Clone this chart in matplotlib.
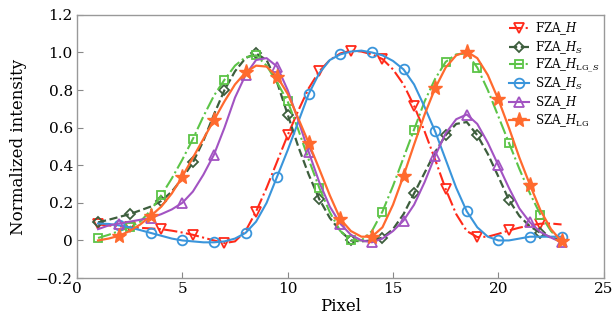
import numpy as np
import matplotlib
matplotlib.use('Agg')
import matplotlib.pyplot as plt
from matplotlib.ticker import FuncFormatter

plt.rcParams['font.family'] = ['DejaVu Serif']
plt.rcParams['mathtext.fontset'] = 'dejavuserif'

# pixel positions, 0.5 step from 1 to 23
pixel = np.arange(1, 23.5, 0.5)

fza_h = [0.085, 0.08, 0.075, 0.07, 0.067, 0.064, 0.06, 0.052, 0.042, 0.03, 0.015, 0.0,
         -0.014, -0.005, 0.05, 0.154, 0.28, 0.42, 0.56, 0.69, 0.81, 0.90, 0.96, 0.995,
         1.01, 1.005, 0.99, 0.965, 0.91, 0.83, 0.716, 0.58, 0.43, 0.273, 0.14, 0.05,
         0.018, 0.02, 0.035, 0.053, 0.068, 0.08, 0.089, 0.09, 0.085]
fza_hs = [0.096, 0.11, 0.125, 0.14, 0.16, 0.18, 0.21, 0.26, 0.33, 0.415, 0.53, 0.67,
          0.80, 0.90, 0.97, 0.995, 0.96, 0.84, 0.67, 0.50, 0.35, 0.22, 0.12, 0.05,
          0.0, -0.005, 0.0, 0.015, 0.06, 0.14, 0.25, 0.36, 0.47, 0.56, 0.62, 0.63,
          0.56, 0.46, 0.34, 0.216, 0.13, 0.075, 0.04, 0.015, 0.0]
fza_hlgs = [0.013, 0.03, 0.05, 0.07, 0.10, 0.16, 0.24, 0.33, 0.43, 0.54, 0.66, 0.77,
            0.855, 0.93, 0.975, 0.985, 0.93, 0.84, 0.74, 0.59, 0.43, 0.28, 0.15, 0.05,
            0.0, 0.0, 0.05, 0.154, 0.29, 0.44, 0.59, 0.74, 0.86, 0.95, 0.99, 0.995,
            0.92, 0.80, 0.66, 0.52, 0.38, 0.25, 0.137, 0.05, -0.01]
sza_hs = [0.09, 0.088, 0.08, 0.07, 0.055, 0.04, 0.025, 0.01, 0.0, -0.005, -0.01, -0.01,
          -0.005, 0.01, 0.04, 0.10, 0.20, 0.34, 0.48, 0.63, 0.78, 0.89, 0.96, 0.99,
          1.005, 1.01, 1.0, 0.985, 0.955, 0.91, 0.83, 0.71, 0.58, 0.43, 0.28, 0.155,
          0.07, 0.02, 0.0, 0.0, 0.01, 0.02, 0.02, 0.02, 0.02]
sza_h = [0.06, 0.08, 0.09, 0.10, 0.11, 0.12, 0.14, 0.165, 0.20, 0.26, 0.35, 0.456,
         0.60, 0.76, 0.88, 0.96, 0.97, 0.925, 0.80, 0.64, 0.47, 0.31, 0.18, 0.089,
         0.03, 0.0, -0.01, 0.01, 0.05, 0.106, 0.19, 0.31, 0.45, 0.57, 0.645, 0.67,
         0.62, 0.52, 0.40, 0.28, 0.17, 0.096, 0.045, 0.015, -0.01]
sza_hlg = [0.0, 0.01, 0.025, 0.05, 0.085, 0.13, 0.18, 0.25, 0.34, 0.44, 0.54, 0.64,
           0.74, 0.83, 0.894, 0.93, 0.925, 0.872, 0.78, 0.65, 0.518, 0.38, 0.24, 0.114,
           0.05, 0.02, 0.02, 0.07, 0.19, 0.344, 0.51, 0.67, 0.81, 0.92, 0.985, 1.005,
           0.97, 0.88, 0.75, 0.60, 0.44, 0.296, 0.16, 0.06, -0.005]

labels = ['FZA_$H$', 'FZA_$H_S$', r'FZA_$H_{\mathrm{LG\_}S}$',
          'SZA_$H_S$', 'SZA_$H$', r'SZA_$H_{\mathrm{LG}}$']

fig = plt.figure(figsize=(6.16, 3.31), dpi=100)
ax = fig.add_axes([0.125, 0.16, 0.855, 0.795])

ax.plot(pixel, fza_h, '-.', color='#ff2a1a', lw=1.5, marker='v', ms=7, mfc='none',
        mew=1.3, markevery=(0, 3), label=labels[0])
ax.plot(pixel, fza_hs, '--', color='#3d5e3d', lw=1.6, marker='D', ms=5.5, mfc='none',
        mew=1.3, markevery=(0, 3), label=labels[1])
ax.plot(pixel, fza_hlgs, '-.', color='#5cc447', lw=1.5, marker='s', ms=6, mfc='none',
        mew=1.3, markevery=(0, 3), label=labels[2])
ax.plot(pixel, sza_hs, '-', color='#3a95db', lw=1.5, marker='o', ms=7, mfc='none',
        mew=1.3, markevery=(2, 3), label=labels[3])
ax.plot(pixel, sza_h, '-', color='#a253c2', lw=1.5, marker='^', ms=7.5, mfc='none',
        mew=1.3, markevery=(2, 3), label=labels[4])
ax.plot(pixel, sza_hlg, '-', color='#ff6a2e', lw=1.6, marker='*', ms=11,
        markevery=(2, 3), label=labels[5])

ax.set_xlim(0, 25)
ax.set_ylim(-0.2, 1.2)
ax.set_xticks([0, 5, 10, 15, 20, 25])
ax.set_yticks([-0.2, 0, 0.2, 0.4, 0.6, 0.8, 1.0, 1.2])
ax.yaxis.set_major_formatter(FuncFormatter(lambda v, p: '0' if abs(v) < 1e-9 else f'{v:.1f}'.replace('-', '\u2212')))
ax.tick_params(direction='in', length=4, width=0.8, color='#888888', labelsize=11, pad=3)
for s in ax.spines.values():
    s.set_color('#999999')
    s.set_linewidth(1.0)

ax.set_xlabel('Pixel', fontsize=12, labelpad=1)
ax.set_ylabel('Normalized intensity', fontsize=12, labelpad=6)

ax.legend(loc='upper right', bbox_to_anchor=(1.005, 1.005), frameon=False, fontsize=8.5,
          handlelength=1.7, handletextpad=0.5, labelspacing=0.12, borderaxespad=0.2)

fig.savefig('out.png', dpi=100)
